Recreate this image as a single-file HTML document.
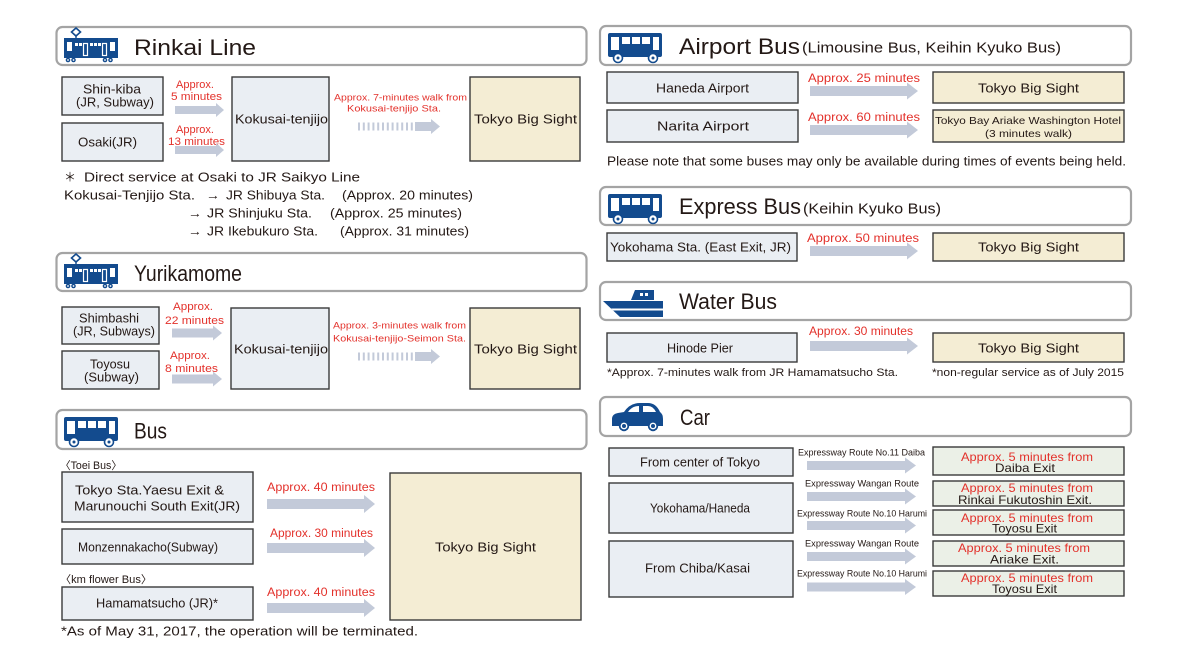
<!DOCTYPE html>
<html>
<head>
<meta charset="utf-8">
<style>
html,body{margin:0;padding:0;background:#fff;}
svg{display:block;}
text{font-family:"Liberation Sans","Noto Sans CJK JP",sans-serif;fill:#231815;}
.r{fill:#e3312b;}
.hdr{fill:#fff;stroke:#a4a4a4;stroke-width:2.2;}
.bx{fill:#eaeef3;stroke:#3a3a3a;stroke-width:1.4;}
.bg{fill:#f4edd4;stroke:#3a3a3a;stroke-width:1.4;}
.gr{fill:#ebf0e7;stroke:#3a3a3a;stroke-width:1.4;}
.ar{fill:#c3cad9;}
.ic{fill:#134b8e;}
.w{fill:#fff;}
</style>
</head>
<body>
<svg width="1183" height="654" viewBox="0 0 1183 654" xmlns="http://www.w3.org/2000/svg">

<!-- ================= LEFT: RINKAI ================= -->
<rect class="hdr" x="56.5" y="27" width="530" height="38" rx="6"/>
<g transform="translate(63,27)">
  <polygon points="13,1 17.5,5 13,9 8.5,5" fill="#fff" stroke="#134b8e" stroke-width="1.6"/>
  <rect class="ic" x="12.3" y="9" width="1.4" height="3"/>
  <rect class="ic" x="1" y="11" width="54" height="20"/>
  <rect class="w" x="4" y="15" width="5" height="9"/>
  <rect class="w" x="12" y="16" width="3" height="3"/>
  <rect class="w" x="16" y="16" width="3" height="3"/>
  <rect x="20.5" y="16.5" width="4" height="12" fill="none" stroke="#fff" stroke-width="1.2"/>
  <rect class="w" x="27" y="16" width="3" height="3"/>
  <rect class="w" x="31" y="16" width="3" height="3"/>
  <rect class="w" x="35" y="16" width="3" height="3"/>
  <rect x="39.5" y="16.5" width="4" height="12" fill="none" stroke="#fff" stroke-width="1.2"/>
  <rect class="w" x="47" y="15" width="5" height="9"/>
  <circle cx="5" cy="33" r="2.3" class="ic"/><circle cx="10.5" cy="33" r="2.3" class="ic"/>
  <circle cx="42" cy="33" r="2.3" class="ic"/><circle cx="47.5" cy="33" r="2.3" class="ic"/>
  <circle cx="5" cy="33" r="0.9" class="w"/><circle cx="10.5" cy="33" r="0.9" class="w"/>
  <circle cx="42" cy="33" r="0.9" class="w"/><circle cx="47.5" cy="33" r="0.9" class="w"/>
</g>
<text x="134" y="55" font-size="22" textLength="122" lengthAdjust="spacingAndGlyphs">Rinkai Line</text>

<rect class="bx" x="62" y="77" width="101" height="38"/>
<rect class="bx" x="62" y="123" width="101" height="38"/>
<text x="83" y="93.5" font-size="12.5" textLength="58" lengthAdjust="spacingAndGlyphs">Shin-kiba</text>
<text x="76" y="106.5" font-size="12.5" textLength="78" lengthAdjust="spacingAndGlyphs">(JR, Subway)</text>
<text x="78" y="146.5" font-size="12.5" textLength="59" lengthAdjust="spacingAndGlyphs">Osaki(JR)</text>

<text class="r" x="176" y="88" font-size="11" textLength="38" lengthAdjust="spacingAndGlyphs">Approx.</text>
<text class="r" x="171" y="100" font-size="11" textLength="51" lengthAdjust="spacingAndGlyphs">5 minutes</text>
<text class="r" x="176" y="133" font-size="11" textLength="38" lengthAdjust="spacingAndGlyphs">Approx.</text>
<text class="r" x="168" y="145" font-size="11" textLength="57" lengthAdjust="spacingAndGlyphs">13 minutes</text>
<polygon class="ar" points="175,106 216,106 216,103 224,110 216,117 216,114 175,114"/>
<polygon class="ar" points="175,146 216,146 216,143 224,150 216,157 216,154 175,154"/>

<rect class="bx" x="232" y="77" width="97" height="84"/>
<text x="235" y="123.5" font-size="12.5" textLength="93" lengthAdjust="spacingAndGlyphs">Kokusai-tenjijo</text>

<text class="r" x="334" y="100.5" font-size="9.5" textLength="133" lengthAdjust="spacingAndGlyphs">Approx. 7-minutes walk from</text>
<text class="r" x="347" y="111.5" font-size="9.5" textLength="94" lengthAdjust="spacingAndGlyphs">Kokusai-tenjijo Sta.</text>
<g transform="translate(0,126.5)">
  <rect class="ar" x="358" y="-4" width="2" height="8"/><rect class="ar" x="362.8" y="-4" width="2" height="8"/>
  <rect class="ar" x="367.6" y="-4" width="2" height="8"/><rect class="ar" x="372.4" y="-4" width="2" height="8"/>
  <rect class="ar" x="377.2" y="-4" width="2" height="8"/><rect class="ar" x="382" y="-4" width="2" height="8"/>
  <rect class="ar" x="386.8" y="-4" width="2" height="8"/><rect class="ar" x="391.6" y="-4" width="2" height="8"/>
  <rect class="ar" x="396.4" y="-4" width="2" height="8"/><rect class="ar" x="401.2" y="-4" width="2" height="8"/>
  <rect class="ar" x="406" y="-4" width="2" height="8"/><rect class="ar" x="410.8" y="-4" width="2" height="8"/>
  <polygon class="ar" points="415,-4.5 431,-4.5 431,-7.5 440,0 431,7.5 431,4.5 415,4.5"/>
</g>

<rect class="bg" x="470" y="77" width="110" height="84"/>
<text x="474" y="123.5" font-size="12.5" textLength="103" lengthAdjust="spacingAndGlyphs">Tokyo Big Sight</text>

<text x="64" y="181.5" font-size="12.5" textLength="12" lengthAdjust="spacingAndGlyphs">＊</text>
<text x="84" y="181.5" font-size="12.5" textLength="276" lengthAdjust="spacingAndGlyphs">Direct service at Osaki to JR Saikyo Line</text>
<text x="64" y="199.5" font-size="12.5" textLength="131" lengthAdjust="spacingAndGlyphs">Kokusai-Tenjijo Sta.</text>
<text x="206" y="199.5" font-size="12.5" textLength="14" lengthAdjust="spacingAndGlyphs">→</text>
<text x="226" y="199.5" font-size="12.5" textLength="99" lengthAdjust="spacingAndGlyphs">JR Shibuya Sta.</text>
<text x="342" y="199.5" font-size="12.5" textLength="131" lengthAdjust="spacingAndGlyphs">(Approx. 20 minutes)</text>
<text x="188" y="217.5" font-size="12.5" textLength="14" lengthAdjust="spacingAndGlyphs">→</text>
<text x="207" y="217.5" font-size="12.5" textLength="105" lengthAdjust="spacingAndGlyphs">JR Shinjuku Sta.</text>
<text x="330" y="217.5" font-size="12.5" textLength="132" lengthAdjust="spacingAndGlyphs">(Approx. 25 minutes)</text>
<text x="188" y="235.5" font-size="12.5" textLength="14" lengthAdjust="spacingAndGlyphs">→</text>
<text x="207" y="235.5" font-size="12.5" textLength="111" lengthAdjust="spacingAndGlyphs">JR Ikebukuro Sta.</text>
<text x="340" y="235.5" font-size="12.5" textLength="129" lengthAdjust="spacingAndGlyphs">(Approx. 31 minutes)</text>

<!-- ================= LEFT: YURIKAMOME ================= -->
<rect class="hdr" x="56.5" y="253" width="530" height="38" rx="6"/>
<g transform="translate(63,253)">
  <polygon points="13,1 17.5,5 13,9 8.5,5" fill="#fff" stroke="#134b8e" stroke-width="1.6"/>
  <rect class="ic" x="12.3" y="9" width="1.4" height="3"/>
  <rect class="ic" x="1" y="11" width="54" height="20"/>
  <rect class="w" x="4" y="15" width="5" height="9"/>
  <rect class="w" x="12" y="16" width="3" height="3"/>
  <rect class="w" x="16" y="16" width="3" height="3"/>
  <rect x="20.5" y="16.5" width="4" height="12" fill="none" stroke="#fff" stroke-width="1.2"/>
  <rect class="w" x="27" y="16" width="3" height="3"/>
  <rect class="w" x="31" y="16" width="3" height="3"/>
  <rect class="w" x="35" y="16" width="3" height="3"/>
  <rect x="39.5" y="16.5" width="4" height="12" fill="none" stroke="#fff" stroke-width="1.2"/>
  <rect class="w" x="47" y="15" width="5" height="9"/>
  <circle cx="5" cy="33" r="2.3" class="ic"/><circle cx="10.5" cy="33" r="2.3" class="ic"/>
  <circle cx="42" cy="33" r="2.3" class="ic"/><circle cx="47.5" cy="33" r="2.3" class="ic"/>
  <circle cx="5" cy="33" r="0.9" class="w"/><circle cx="10.5" cy="33" r="0.9" class="w"/>
  <circle cx="42" cy="33" r="0.9" class="w"/><circle cx="47.5" cy="33" r="0.9" class="w"/>
</g>
<text x="134" y="281" font-size="22" textLength="108" lengthAdjust="spacingAndGlyphs">Yurikamome</text>

<rect class="bx" x="62" y="307" width="97" height="37"/>
<rect class="bx" x="62" y="351" width="97" height="38"/>
<text x="79" y="322.5" font-size="12.5" textLength="60" lengthAdjust="spacingAndGlyphs">Shimbashi</text>
<text x="73" y="335.5" font-size="12.5" textLength="82" lengthAdjust="spacingAndGlyphs">(JR, Subways)</text>
<text x="90" y="368.5" font-size="12.5" textLength="40" lengthAdjust="spacingAndGlyphs">Toyosu</text>
<text x="84" y="381.5" font-size="12.5" textLength="55" lengthAdjust="spacingAndGlyphs">(Subway)</text>

<text class="r" x="173" y="310" font-size="11" textLength="40" lengthAdjust="spacingAndGlyphs">Approx.</text>
<text class="r" x="165" y="324" font-size="11" textLength="59" lengthAdjust="spacingAndGlyphs">22 minutes</text>
<text class="r" x="170" y="359" font-size="11" textLength="40" lengthAdjust="spacingAndGlyphs">Approx.</text>
<text class="r" x="165" y="372" font-size="11" textLength="53" lengthAdjust="spacingAndGlyphs">8 minutes</text>
<polygon class="ar" points="172,328.5 213,328.5 213,325.5 222,333 213,340.5 213,337.5 172,337.5"/>
<polygon class="ar" points="172,374.5 213,374.5 213,371.5 222,379 213,386.5 213,383.5 172,383.5"/>

<rect class="bx" x="231" y="308" width="98" height="81"/>
<text x="234" y="353.5" font-size="12.5" textLength="94" lengthAdjust="spacingAndGlyphs">Kokusai-tenjijo</text>

<text class="r" x="333" y="328.5" font-size="9.5" textLength="133" lengthAdjust="spacingAndGlyphs">Approx. 3-minutes walk from</text>
<text class="r" x="333" y="341.5" font-size="9.5" textLength="133" lengthAdjust="spacingAndGlyphs">Kokusai-tenjijo-Seimon Sta.</text>
<g transform="translate(0,356.5)">
  <rect class="ar" x="358" y="-4" width="2" height="8"/><rect class="ar" x="362.8" y="-4" width="2" height="8"/>
  <rect class="ar" x="367.6" y="-4" width="2" height="8"/><rect class="ar" x="372.4" y="-4" width="2" height="8"/>
  <rect class="ar" x="377.2" y="-4" width="2" height="8"/><rect class="ar" x="382" y="-4" width="2" height="8"/>
  <rect class="ar" x="386.8" y="-4" width="2" height="8"/><rect class="ar" x="391.6" y="-4" width="2" height="8"/>
  <rect class="ar" x="396.4" y="-4" width="2" height="8"/><rect class="ar" x="401.2" y="-4" width="2" height="8"/>
  <rect class="ar" x="406" y="-4" width="2" height="8"/><rect class="ar" x="410.8" y="-4" width="2" height="8"/>
  <polygon class="ar" points="415,-4.5 431,-4.5 431,-7.5 440,0 431,7.5 431,4.5 415,4.5"/>
</g>

<rect class="bg" x="470" y="308" width="110" height="81"/>
<text x="474" y="353.5" font-size="12.5" textLength="103" lengthAdjust="spacingAndGlyphs">Tokyo Big Sight</text>

<!-- ================= LEFT: BUS ================= -->
<rect class="hdr" x="56.5" y="410" width="530" height="39" rx="6"/>
<g transform="translate(63,415)">
  <rect class="ic" x="1" y="2" width="54" height="24" rx="2"/>
  <rect class="w" x="4" y="6" width="8" height="13"/>
  <rect class="w" x="15" y="6" width="8" height="7"/>
  <rect class="w" x="25" y="6" width="8" height="7"/>
  <rect class="w" x="35" y="6" width="8" height="7"/>
  <rect class="w" x="46" y="6" width="6" height="13"/>
  <circle cx="11" cy="27" r="4.5" fill="#fff" stroke="#134b8e" stroke-width="1.6"/>
  <circle cx="11" cy="27" r="1.5" class="ic"/>
  <circle cx="46" cy="27" r="4.5" fill="#fff" stroke="#134b8e" stroke-width="1.6"/>
  <circle cx="46" cy="27" r="1.5" class="ic"/>
</g>
<text x="134" y="438.5" font-size="22" textLength="33" lengthAdjust="spacingAndGlyphs">Bus</text>

<text x="60" y="469" font-size="11" textLength="62" lengthAdjust="spacingAndGlyphs">〈Toei Bus〉</text>
<rect class="bx" x="62" y="472" width="191" height="50"/>
<text x="75" y="494.5" font-size="12.5" textLength="149" lengthAdjust="spacingAndGlyphs">Tokyo Sta.Yaesu Exit &amp;</text>
<text x="74" y="510.5" font-size="12.5" textLength="166" lengthAdjust="spacingAndGlyphs">Marunouchi South Exit(JR)</text>
<text class="r" x="267" y="491" font-size="11.5" textLength="108" lengthAdjust="spacingAndGlyphs">Approx. 40 minutes</text>
<polygon class="ar" points="267,499 364,499 364,495 375,504 364,513 364,509 267,509"/>

<rect class="bx" x="62" y="529" width="191" height="35"/>
<text x="78" y="551.5" font-size="12.5" textLength="140" lengthAdjust="spacingAndGlyphs">Monzennakacho(Subway)</text>
<text class="r" x="270" y="537" font-size="11.5" textLength="103" lengthAdjust="spacingAndGlyphs">Approx. 30 minutes</text>
<polygon class="ar" points="267,543 364,543 364,539 375,548 364,557 364,553 267,553"/>

<text x="60" y="583" font-size="11" textLength="92" lengthAdjust="spacingAndGlyphs">〈km flower Bus〉</text>
<rect class="bx" x="62" y="587" width="191" height="33"/>
<text x="96" y="607.5" font-size="12.5" textLength="122" lengthAdjust="spacingAndGlyphs">Hamamatsucho (JR)*</text>
<text class="r" x="267" y="596" font-size="11.5" textLength="108" lengthAdjust="spacingAndGlyphs">Approx. 40 minutes</text>
<polygon class="ar" points="267,603 364,603 364,599 375,608 364,617 364,613 267,613"/>

<rect class="bg" x="390" y="473" width="191" height="147"/>
<text x="435" y="551.5" font-size="12.5" textLength="101" lengthAdjust="spacingAndGlyphs">Tokyo Big Sight</text>

<text x="61" y="635.5" font-size="12.5" textLength="357" lengthAdjust="spacingAndGlyphs">*As of May 31, 2017, the operation will be terminated.</text>

<!-- ================= RIGHT: AIRPORT BUS ================= -->
<rect class="hdr" x="600" y="26" width="531" height="39" rx="6"/>
<g transform="translate(607,31)">
  <rect class="ic" x="1" y="2" width="54" height="24" rx="2"/>
  <rect class="w" x="4" y="6" width="8" height="13"/>
  <rect class="w" x="15" y="6" width="8" height="7"/>
  <rect class="w" x="25" y="6" width="8" height="7"/>
  <rect class="w" x="35" y="6" width="8" height="7"/>
  <rect class="w" x="46" y="6" width="6" height="13"/>
  <circle cx="11" cy="27" r="4.5" fill="#fff" stroke="#134b8e" stroke-width="1.6"/>
  <circle cx="11" cy="27" r="1.5" class="ic"/>
  <circle cx="46" cy="27" r="4.5" fill="#fff" stroke="#134b8e" stroke-width="1.6"/>
  <circle cx="46" cy="27" r="1.5" class="ic"/>
</g>
<text x="679" y="54" font-size="22" textLength="121" lengthAdjust="spacingAndGlyphs">Airport Bus</text>
<text x="802" y="52.5" font-size="15" textLength="259" lengthAdjust="spacingAndGlyphs">(Limousine Bus, Keihin Kyuko Bus)</text>

<rect class="bx" x="607" y="72" width="191" height="31"/>
<text x="656" y="92.5" font-size="12.5" textLength="93" lengthAdjust="spacingAndGlyphs">Haneda Airport</text>
<text class="r" x="808" y="82" font-size="11.5" textLength="112" lengthAdjust="spacingAndGlyphs">Approx. 25 minutes</text>
<polygon class="ar" points="810,86 907,86 907,82.5 918,91 907,99.5 907,96 810,96"/>
<rect class="bg" x="933" y="72" width="191" height="31"/>
<text x="978" y="92.5" font-size="12.5" textLength="101" lengthAdjust="spacingAndGlyphs">Tokyo Big Sight</text>

<rect class="bx" x="607" y="110" width="191" height="32"/>
<text x="657" y="130.5" font-size="12.5" textLength="92" lengthAdjust="spacingAndGlyphs">Narita Airport</text>
<text class="r" x="808" y="121" font-size="11.5" textLength="112" lengthAdjust="spacingAndGlyphs">Approx. 60 minutes</text>
<polygon class="ar" points="810,125 907,125 907,121.5 918,130 907,138.5 907,135 810,135"/>
<rect class="bg" x="933" y="110" width="191" height="32"/>
<text x="935" y="124" font-size="10.5" textLength="186" lengthAdjust="spacingAndGlyphs">Tokyo Bay Ariake Washington Hotel</text>
<text x="985" y="137" font-size="10.5" textLength="87" lengthAdjust="spacingAndGlyphs">(3 minutes walk)</text>

<text x="607" y="165.5" font-size="12.5" textLength="519" lengthAdjust="spacingAndGlyphs">Please note that some buses may only be available during times of events being held.</text>

<!-- ================= RIGHT: EXPRESS BUS ================= -->
<rect class="hdr" x="600" y="187" width="531" height="38" rx="6"/>
<g transform="translate(607,192)">
  <rect class="ic" x="1" y="2" width="54" height="24" rx="2"/>
  <rect class="w" x="4" y="6" width="8" height="13"/>
  <rect class="w" x="15" y="6" width="8" height="7"/>
  <rect class="w" x="25" y="6" width="8" height="7"/>
  <rect class="w" x="35" y="6" width="8" height="7"/>
  <rect class="w" x="46" y="6" width="6" height="13"/>
  <circle cx="11" cy="27" r="4.5" fill="#fff" stroke="#134b8e" stroke-width="1.6"/>
  <circle cx="11" cy="27" r="1.5" class="ic"/>
  <circle cx="46" cy="27" r="4.5" fill="#fff" stroke="#134b8e" stroke-width="1.6"/>
  <circle cx="46" cy="27" r="1.5" class="ic"/>
</g>
<text x="679" y="214" font-size="22" textLength="122" lengthAdjust="spacingAndGlyphs">Express Bus</text>
<text x="803" y="213.5" font-size="15" textLength="138" lengthAdjust="spacingAndGlyphs">(Keihin Kyuko Bus)</text>

<rect class="bx" x="607" y="233" width="190" height="28"/>
<text x="610" y="251.5" font-size="12.5" textLength="181" lengthAdjust="spacingAndGlyphs">Yokohama Sta. (East Exit, JR)</text>
<text class="r" x="807" y="242" font-size="11.5" textLength="112" lengthAdjust="spacingAndGlyphs">Approx. 50 minutes</text>
<polygon class="ar" points="810,246 907,246 907,242.5 918,251 907,259.5 907,256 810,256"/>
<rect class="bg" x="933" y="233" width="191" height="28"/>
<text x="978" y="251.5" font-size="12.5" textLength="101" lengthAdjust="spacingAndGlyphs">Tokyo Big Sight</text>

<!-- ================= RIGHT: WATER BUS ================= -->
<rect class="hdr" x="600" y="282" width="531" height="38" rx="6"/>
<g>
  <polygon class="ic" points="631,300 635,290 654,290 654,300"/>
  <rect class="w" x="640" y="293" width="3" height="3"/>
  <rect class="w" x="645" y="293" width="3" height="3"/>
  <polygon class="ic" points="603,301 663,301 663,317 620,317"/>
  <polygon class="w" points="611,308.5 663,308.5 663,310.5 613,310.5"/>
</g>
<text x="679" y="309" font-size="22" textLength="98" lengthAdjust="spacingAndGlyphs">Water Bus</text>

<rect class="bx" x="607" y="333" width="190" height="29"/>
<text x="667" y="352.5" font-size="12.5" textLength="66" lengthAdjust="spacingAndGlyphs">Hinode Pier</text>
<text class="r" x="809" y="335" font-size="11.5" textLength="104" lengthAdjust="spacingAndGlyphs">Approx. 30 minutes</text>
<polygon class="ar" points="810,341 907,341 907,337.5 918,346 907,354.5 907,351 810,351"/>
<rect class="bg" x="933" y="333" width="191" height="29"/>
<text x="978" y="352.5" font-size="12.5" textLength="101" lengthAdjust="spacingAndGlyphs">Tokyo Big Sight</text>
<text x="607" y="376" font-size="11" textLength="291" lengthAdjust="spacingAndGlyphs">*Approx. 7-minutes walk from JR Hamamatsucho Sta.</text>
<text x="932" y="376" font-size="11" textLength="192" lengthAdjust="spacingAndGlyphs">*non-regular service as of July 2015</text>

<!-- ================= RIGHT: CAR ================= -->
<rect class="hdr" x="600" y="397" width="531" height="39" rx="6"/>
<g>
  <path class="ic" d="M612,426 L612,419 Q612,414 618,413 L624,412 Q630,403 640,403 L648,403 Q656,403 660,412 Q663,414 663,419 L663,426 Z"/>
  <path class="w" d="M628,412 Q632,406 639,406 L639,412 Z"/>
  <path class="w" d="M643,406 L648,406 Q653,406 656,412 L643,412 Z"/>
  <circle cx="624" cy="426" r="5.2" class="ic"/><circle cx="624" cy="426" r="3.4" class="w"/><circle cx="624" cy="426" r="2" class="ic"/>
  <circle cx="653" cy="426" r="5.2" class="ic"/><circle cx="653" cy="426" r="3.4" class="w"/><circle cx="653" cy="426" r="2" class="ic"/>
</g>
<text x="680" y="425" font-size="22" textLength="30" lengthAdjust="spacingAndGlyphs">Car</text>

<rect class="bx" x="609" y="448" width="184" height="28"/>
<text x="640" y="466.5" font-size="12.5" textLength="120" lengthAdjust="spacingAndGlyphs">From center of Tokyo</text>
<rect class="bx" x="609" y="483" width="184" height="50"/>
<text x="650" y="512.5" font-size="12.5" textLength="100" lengthAdjust="spacingAndGlyphs">Yokohama/Haneda</text>
<rect class="bx" x="609" y="541" width="184" height="56"/>
<text x="645" y="572.5" font-size="12.5" textLength="105" lengthAdjust="spacingAndGlyphs">From Chiba/Kasai</text>

<text x="798" y="455.5" font-size="9.5" textLength="127" lengthAdjust="spacingAndGlyphs">Expressway Route No.11 Daiba</text>
<text x="805" y="486.5" font-size="9.5" textLength="114" lengthAdjust="spacingAndGlyphs">Expressway Wangan Route</text>
<text x="797" y="516.5" font-size="9.5" textLength="130" lengthAdjust="spacingAndGlyphs">Expressway Route No.10 Harumi</text>
<text x="805" y="546.5" font-size="9.5" textLength="114" lengthAdjust="spacingAndGlyphs">Expressway Wangan Route</text>
<text x="797" y="576.5" font-size="9.5" textLength="130" lengthAdjust="spacingAndGlyphs">Expressway Route No.10 Harumi</text>

<polygon class="ar" transform="translate(0,465.5)" points="807,-4.5 905,-4.5 905,-8 916,0 905,8 905,4.5 807,4.5"/>
<polygon class="ar" transform="translate(0,496.5)" points="807,-4.5 905,-4.5 905,-8 916,0 905,8 905,4.5 807,4.5"/>
<polygon class="ar" transform="translate(0,525.5)" points="807,-4.5 905,-4.5 905,-8 916,0 905,8 905,4.5 807,4.5"/>
<polygon class="ar" transform="translate(0,556.5)" points="807,-4.5 905,-4.5 905,-8 916,0 905,8 905,4.5 807,4.5"/>
<polygon class="ar" transform="translate(0,587)" points="807,-4.5 905,-4.5 905,-8 916,0 905,8 905,4.5 807,4.5"/>

<rect class="gr" x="933" y="447" width="191" height="28"/>
<text class="r" x="961" y="461" font-size="12" textLength="132" lengthAdjust="spacingAndGlyphs">Approx. 5 minutes from</text>
<text x="995" y="472" font-size="12" textLength="60" lengthAdjust="spacingAndGlyphs">Daiba Exit</text>

<rect class="gr" x="933" y="481" width="191" height="25"/>
<text class="r" x="961" y="492" font-size="12" textLength="132" lengthAdjust="spacingAndGlyphs">Approx. 5 minutes from</text>
<text x="958" y="504" font-size="12" textLength="134" lengthAdjust="spacingAndGlyphs">Rinkai Fukutoshin Exit.</text>

<rect class="gr" x="933" y="510" width="191" height="25"/>
<text class="r" x="961" y="522" font-size="12" textLength="132" lengthAdjust="spacingAndGlyphs">Approx. 5 minutes from</text>
<text x="992" y="532.5" font-size="12" textLength="65" lengthAdjust="spacingAndGlyphs">Toyosu Exit</text>

<rect class="gr" x="933" y="541" width="191" height="25"/>
<text class="r" x="958" y="552" font-size="12" textLength="132" lengthAdjust="spacingAndGlyphs">Approx. 5 minutes from</text>
<text x="990" y="563.5" font-size="12" textLength="69" lengthAdjust="spacingAndGlyphs">Ariake Exit.</text>

<rect class="gr" x="933" y="571" width="191" height="25"/>
<text class="r" x="961" y="582" font-size="12" textLength="132" lengthAdjust="spacingAndGlyphs">Approx. 5 minutes from</text>
<text x="992" y="593" font-size="12" textLength="65" lengthAdjust="spacingAndGlyphs">Toyosu Exit</text>

</svg>
</body>
</html>
